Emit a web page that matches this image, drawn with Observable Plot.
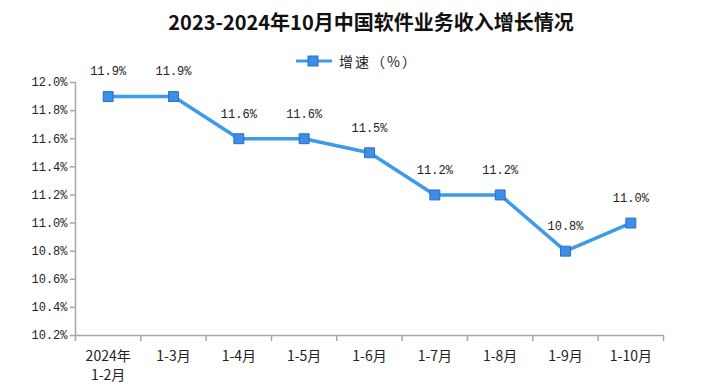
<!DOCTYPE html>
<html><head><meta charset="utf-8">
<script src="https://cdn.jsdelivr.net/npm/d3@7"></script>
<script src="https://cdn.jsdelivr.net/npm/@observablehq/plot@0.6"></script>
<style>
body{margin:0;background:#fff;}
#wrap{position:relative;width:718px;height:386px;overflow:hidden;background:#fff;}
#title{height:40px;line-height:44px;text-align:center;padding-left:24px;font-family:"Noto Sans CJK SC",sans-serif;font-weight:bold;font-size:20px;color:#111;}
#legend{position:absolute;left:294px;top:51px;display:flex;align-items:center;font-family:"Noto Sans CJK SC",sans-serif;font-size:14px;color:#222;letter-spacing:2px;}
</style></head>
<body><div id="wrap"><div id="title">2023-2024年10月中国软件业务收入增长情况</div>
<div id="legend"><svg width="40" height="14"><line x1="2" y1="7" x2="38" y2="7" stroke="#3d9be9" stroke-width="3"/><rect x="14" y="2" width="10" height="10" fill="#3b8fe8" stroke="#2a6fc0"/></svg><span style="margin-left:5px">增速（%）</span></div>
</div>
<script>
const categories = ["2024年\n1-2月","1-3月","1-4月","1-5月","1-6月","1-7月","1-8月","1-9月","1-10月"];
const growth = [11.9,11.9,11.6,11.6,11.5,11.2,11.2,10.8,11.0];
const yTicks = [10.2,10.4,10.6,10.8,11.0,11.2,11.4,11.6,11.8,12.0];

const data = categories.map((c,i)=>({i: i+0.5, c, v: growth[i]}));
const mono = "'Liberation Mono','DejaVu Sans Mono','Noto Sans CJK SC',monospace";
const axisColor = "#a6a6a6";

const chart = Plot.plot({
  width: 718, height: 346,
  marginLeft: 75, marginRight: 55, marginTop: 42, marginBottom: 51,
  style: {fontFamily: mono, fontSize: "11px", color: "#222", overflow: "visible"},
  x: {domain: [0, categories.length]},
  y: {domain: [10.2, 12.0]},
  marks: [
    Plot.axisY({ticks: yTicks, tickSize: 5, tickPadding: 3, tickFormat: d => d.toFixed(1) + "%", stroke: axisColor, strokeWidth: 1.5, fontSize: 12, fill: "#222", label: null, style: {letterSpacing: "1.2px"}}),
    Plot.axisX({ticks: d3.range(0, categories.length + 1), tickSize: 6, tickFormat: () => "", stroke: axisColor, strokeWidth: 1.5, label: null}),
    Plot.axisX({ticks: data.map(d=>d.i), tickSize: 0, tickPadding: 13, tickFormat: (d) => categories[Math.floor(d)], fontSize: 14, lineHeight: 1.3, fill: "#222", lineAnchor: "top", label: null, fontFamily: "'Noto Sans CJK SC',sans-serif"}),
    Plot.ruleX([0], {stroke: axisColor, strokeWidth: 1.5}),
    Plot.ruleY([10.2], {stroke: axisColor, strokeWidth: 1.5}),
    Plot.line(data, {x: "i", y: "v", stroke: "#3d9be9", strokeWidth: 3.5}),
    Plot.dot(data, {x: "i", y: "v", symbol: "square", r: 5.6, fill: "#3b8fe8", stroke: "#2a6fc0", strokeWidth: 1}),
    Plot.text(data, {x: "i", y: "v", text: d => d.v.toFixed(1) + "%", dy: -25, fontSize: 12, fill: "#222", style: {letterSpacing: "1px"}})
  ]
});
document.getElementById("wrap").appendChild(chart);
</script>
</body></html>
